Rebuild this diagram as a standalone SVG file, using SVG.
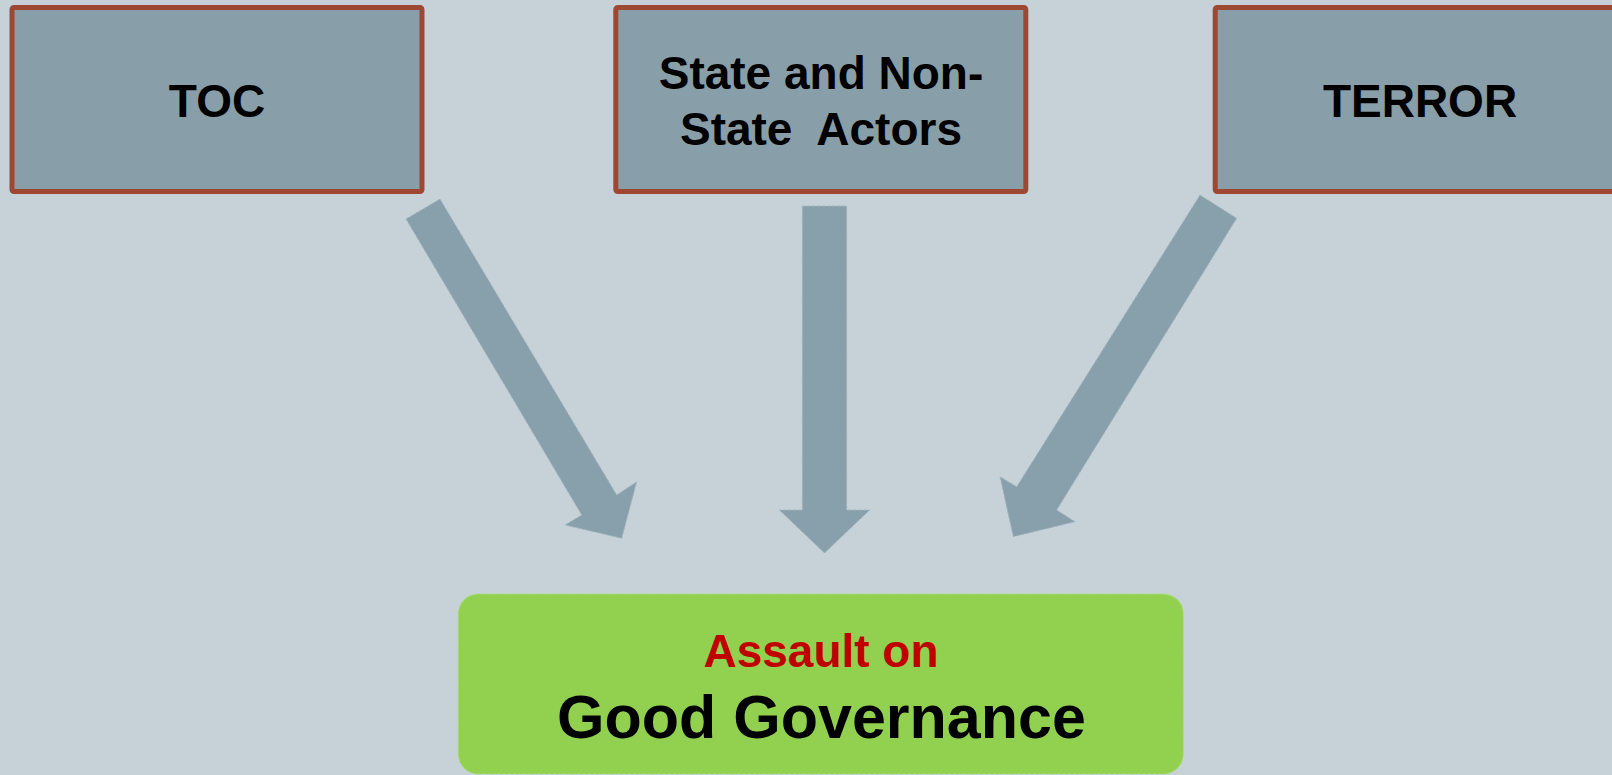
<svg xmlns="http://www.w3.org/2000/svg" width="1612" height="775" viewBox="0 0 1612 775">
  <style>
    .box { fill: #889FAA; stroke: #9E4733; stroke-width: 5; }
    .lbl { font-family: "Liberation Sans", Arial, sans-serif; font-weight: bold; font-size: 46px; fill: #000000; text-anchor: middle; }
    .arrow { fill: #88A0AC; stroke: #A3B5BF; stroke-width: 1; stroke-dasharray: 3 2; }
    .goal { fill: #92D050; stroke: #ABDC78; stroke-width: 1.2; stroke-dasharray: 3 2; }
  </style>
  <rect x="0" y="0" width="1612" height="775" fill="#C6D2D8"/>

  <g id="node-toc">
    <rect class="box" x="12" y="7.5" width="410" height="184" rx="2"/>
    <text class="lbl" x="217" y="117">TOC</text>
  </g>

  <g id="node-actors">
    <rect class="box" x="615.8" y="7.5" width="410" height="184" rx="2"/>
    <text class="lbl" x="821" y="89">State and Non-</text>
    <text class="lbl" x="821" y="145" xml:space="preserve">State  Actors</text>
  </g>

  <g id="node-terror">
    <rect class="box" x="1215.2" y="7.5" width="410" height="184" rx="2"/>
    <text class="lbl" x="1420" y="117">TERROR</text>
  </g>

  <g id="connectors">
    <polygon class="arrow" points="406,219 440,199 616.7,495 636.7,481.7 621.7,538.3 565,525 581.7,515"/>
    <polygon class="arrow" points="802.3,206 846.7,206 846.7,510 869.7,510 824.5,553 779.3,510 802.3,510"/>
    <polygon class="arrow" points="1200,195 1236.7,218.3 1056.7,510 1075,521.7 1013.3,536.7 1000,476.7 1016.7,486.7"/>
  </g>

  <g id="node-goal">
    <rect class="goal" x="458.3" y="594" width="725" height="180" rx="20"/>
    <text x="821" y="667" font-family="'Liberation Sans', Arial, sans-serif" font-weight="bold" font-size="46" fill="#C00000" text-anchor="middle">Assault on</text>
    <text x="821.5" y="738" font-family="'Liberation Sans', Arial, sans-serif" font-weight="bold" font-size="61" fill="#000000" text-anchor="middle">Good Governance</text>
  </g>
</svg>
